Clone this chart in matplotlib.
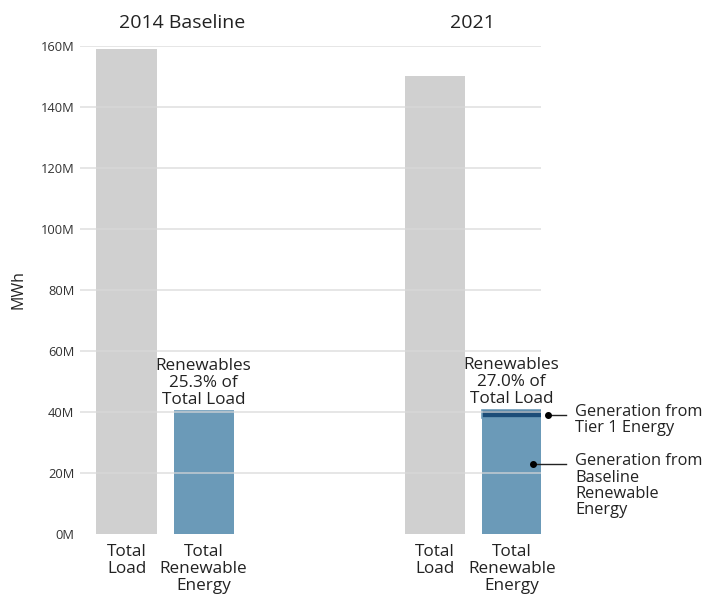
import numpy as np
import matplotlib.pyplot as plt

plt.rcParams['font.family'] = ['Open Sans', 'DejaVu Sans']

# values in millions of MWh
years = ['2014 Baseline', '2021']
total_load = [159.0, 150.2]
baseline_renewable = [40.2, 38.0]
tier1_energy = [0.0, 2.6]
bar_labels = ['Total\nLoad', 'Total\nRenewable\nEnergy']
yticks = [0, 20, 40, 60, 80, 100, 120, 140, 160]

gray = '#d0d0d0'
blue = '#6b9ab8'
dark = '#1c4d78'
txt = '#222222'

W, H = 705, 596
fig = plt.figure(figsize=(W / 100, H / 100), dpi=100)
# axes placed in pixel units
left, right, top, bottom = 80, 541, 46, 534
ax = fig.add_axes([left / W, (H - bottom) / H, (right - left) / W, (bottom - top) / H])

load_x = np.array([0, 4])
ren_x = load_x + 1
width = 0.78

ax.bar(load_x, total_load, width, color=gray, zorder=1)
ax.bar(ren_x, baseline_renewable, width, color=blue, zorder=1)
ax.bar(ren_x, tier1_energy, width, bottom=baseline_renewable, color=dark,
       edgecolor=blue, linewidth=1.2, zorder=1)

ax.set_xlim(-0.604, 5.38)
ax.set_ylim(0, 160)
for v in yticks[1:]:
    ax.axhline(v, color='#d8d8d8', lw=1.2, alpha=0.75, zorder=2)

ax.set_yticks(yticks)
ax.set_yticklabels([f'{v}M' for v in yticks], fontsize=9.3, color='#333333')
ax.tick_params(axis='y', length=0, pad=4)
ax.set_xticks(np.concatenate([load_x, ren_x]))
ax.set_xticklabels([bar_labels[0], bar_labels[0], bar_labels[1], bar_labels[1]],
                   fontsize=12.3, color=txt, linespacing=1.08, va='top')
ax.tick_params(axis='x', length=0, pad=7)
for s in ax.spines.values():
    s.set_visible(False)
ax.set_ylabel('MWh', fontsize=11.5, color=txt, labelpad=10)

# group titles
title_x = load_x + np.array([0.72, 0.49])
for x0, name in zip(title_x, years):
    ax.text(x0, 164.5, name, ha='center', va='bottom', fontsize=14, color=txt)

# share of renewables over load
for i, x in enumerate(ren_x):
    ren_total = baseline_renewable[i] + tier1_energy[i]
    pct = ren_total / total_load[i] * 100
    ax.text(x, ren_total + 1.0, f'Renewables\n{pct:.1f}% of\nTotal Load',
            ha='center', va='bottom', fontsize=12.3, color=txt, linespacing=1.08)

# callouts for the 2021 stack
tier_y = baseline_renewable[1] + tier1_energy[1] * 0.45
ax.plot([ren_x[1] + 0.47, ren_x[1] + 0.7], [tier_y, tier_y], color=txt, lw=1, clip_on=False)
ax.plot(ren_x[1] + 0.47, tier_y, 'o', color='black', ms=4, clip_on=False)
ax.text(ren_x[1] + 0.82, tier_y - 1.8, 'Generation from\nTier 1 Energy', ha='left', va='center',
        fontsize=11.8, color=txt, linespacing=1.0)

base_y = baseline_renewable[1] * 0.6
ax.plot([ren_x[1] + 0.28, ren_x[1] + 0.7], [base_y, base_y], color=txt, lw=1, clip_on=False)
ax.plot(ren_x[1] + 0.28, base_y, 'o', color='black', ms=4, clip_on=False)
ax.text(ren_x[1] + 0.82, base_y + 3.6, 'Generation from\nBaseline\nRenewable\nEnergy', ha='left', va='top',
        fontsize=11.8, color=txt, linespacing=1.02)

fig.savefig('out.png', dpi=100)
